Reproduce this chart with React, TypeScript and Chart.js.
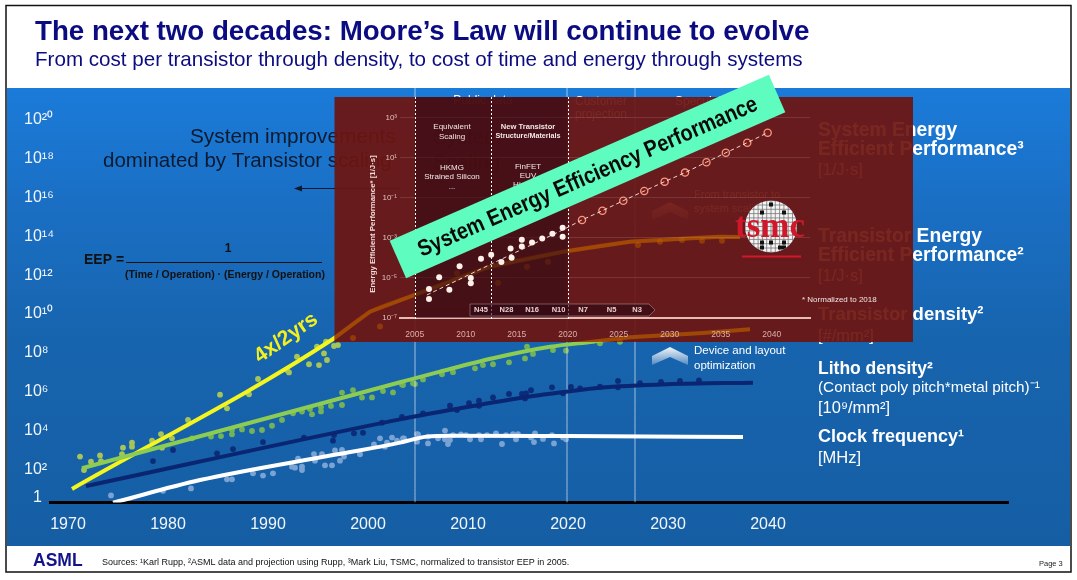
import React, { useEffect, useRef } from "react";
import { Chart, registerables } from "chart.js";
Chart.register(...registerables);

const WIDTH = 1077;
const HEIGHT = 580;
const SANS = '"Liberation Sans", Arial, sans-serif';

// ---------- main chart: [year, log10(value)] ----------
const mainTickYears = [1970, 1980, 1990, 2000, 2010, 2020, 2030, 2040];
const mainTickExps = [0.515, 2, 4, 6, 8, 10, 12, 14, 16, 18, 20];
const mainTickLabels = ["  1", "10²", "10⁴", "10⁶", "10⁸", "10¹⁰", "10¹²", "10¹⁴", "10¹⁶", "10¹⁸", "10²⁰"];
const eraYears = [2004.7, 2019.9, 2026.7];

const transistorEepLine = [[1970.4, 0.98], [1996.5, 8.71], [2000.2, 10.12], [2004.2, 10.89], [2012.2, 12.44], [2019.5, 13.21], [2026.2, 13.73], [2029.2, 13.81], [2035.2, 13.98], [2037.2, 13.97]];
const transistorDensityLine = [[1971.4, 2.05], [2003.2, 6.48], [2007.2, 7.03], [2012.5, 7.72], [2018.2, 8.31], [2022.5, 8.57], [2026.2, 8.8], [2033.5, 9.02], [2038.2, 9.21]];
const lithoDensityLine = [[1971.8, 1.13], [2003.2, 4.57], [2008.2, 5.05], [2014.9, 5.65], [2019.9, 6.0], [2023.2, 6.2], [2029.9, 6.38], [2038.5, 6.46]];
const clockLine = [[1974.5, 0.27], [1983.2, 1.44], [1996.5, 2.73], [2003.2, 3.37], [2004.5, 3.54], [2005.9, 3.68], [2008.2, 3.73], [2019.9, 3.71], [2037.5, 3.66]];

const transistorEepDots = [[1975.5, 3.11], [1976.4, 3.37], [1976.4, 3.16], [1975.4, 2.77], [1973.2, 2.71], [1972.3, 2.39], [1971.2, 2.65], [1971.6, 1.96], [1973.3, 2.41], [1978.4, 3.47], [1979.3, 3.81], [1979.4, 3.11], [1980.4, 3.59], [1982, 4.54], [1985.2, 5.84], [1985.9, 5.14], [1988.1, 5.86], [1989, 6.65], [1991.9, 7.11], [1992.1, 6.99], [1992.9, 7.8], [1994.1, 7.41], [1995.1, 7.37], [1994.9, 8.32], [1995.6, 7.97], [1995.9, 7.63], [1995.8, 8.57], [1996.6, 8.35], [1997, 8.4], [1998.5, 8.76], [2001.2, 9.35], [2008.9, 12.1], [2013, 11.6], [2015.9, 12.44], [2018, 12.7], [2027, 13.56], [2029.2, 13.73], [2031.4, 13.81], [2033.4, 13.78], [2035.4, 13.78]];
const transistorDensityDots = [[1982.4, 3.59], [1984.3, 3.68], [1985.3, 3.71], [1986.4, 4.02], [1986.4, 3.8], [1987.4, 4.05], [1988.4, 3.97], [1989.4, 4.02], [1990.4, 4.24], [1991.4, 4.54], [1992.5, 4.88], [1993.4, 4.97], [1994.2, 5.1], [1994.4, 4.83], [1995.3, 5.19], [1995.3, 4.98], [1996.3, 5.26], [1997.4, 5.31], [1997.4, 5.95], [1998.5, 6.08], [1999.4, 5.69], [2000.4, 5.7], [2001.5, 6.03], [2002.5, 5.96], [2003.4, 6.37], [2004.5, 6.43], [2003.5, 6.34], [2004.7, 6.39], [2005.5, 6.63], [2007.4, 6.89], [2008.5, 7.0], [2010.7, 7.2], [2011.5, 7.37], [2012.5, 7.41], [2014.1, 7.51], [2015.7, 7.71], [2016.5, 7.94], [2015.9, 8.32], [2018.5, 8.14], [2019.8, 8.11], [2023.2, 8.49], [2025.2, 8.57]];
const lithoDensityDots = [[1978.5, 2.42], [1980.5, 2.99], [1984.9, 2.82], [1986.5, 3.04], [1989.5, 3.4], [1993.6, 3.63], [1996.5, 3.47], [1996.6, 3.76], [1998.6, 3.85], [1999.5, 3.88], [2001.4, 4.4], [2003.4, 4.69], [2005.5, 4.88], [2008.2, 5.27], [2008.9, 5.05], [2010.1, 5.4], [2011.1, 5.53], [2011.1, 5.27], [2012.5, 5.7], [2014.1, 5.88], [2015.4, 5.88], [2015.8, 5.91], [2015.7, 5.65], [2016.3, 6.07], [2018.4, 6.22], [2019.5, 5.91], [2020.3, 6.24], [2021.2, 6.17], [2023.2, 6.25], [2025, 6.55], [2025, 6.22], [2027.2, 6.43], [2029.3, 6.5], [2031.2, 6.55], [2033.1, 6.58]];
const clockDots = [[1974.3, 0.65], [1979.5, 0.89], [1982.3, 1.01], [1985.9, 1.48], [1986.4, 1.48], [1988.5, 1.79], [1989.5, 1.67], [1990.5, 1.79], [1992.4, 2.13], [1992.7, 2.08], [1993, 2.54], [1993.4, 1.96], [1993.4, 2.13], [1994.6, 2.78], [1994.7, 2.44], [1995.4, 2.78], [1995.7, 2.2], [1996.4, 2.2], [1996.7, 2.97], [1997.2, 2.44], [1997.4, 2.99], [1997.6, 2.65], [1999.2, 2.77], [2000.6, 3.28], [2001.2, 3.59], [2001.7, 3.16], [2001.9, 3.37], [2002.4, 3.63], [2002.9, 3.47], [2003.6, 3.59], [2005, 3.8], [2003.5, 3.59], [2004.9, 3.81], [2004.9, 3.42], [2006, 3.33], [2006, 3.68], [2007, 3.59], [2007.7, 3.99], [2007.7, 3.54], [2008, 3.3], [2008.2, 3.5], [2008.5, 3.76], [2009.3, 3.8], [2009.8, 3.76], [2010.2, 3.54], [2011.1, 3.76], [2011.3, 3.54], [2011.9, 3.76], [2012.8, 3.85], [2013.4, 3.3], [2013.8, 3.76], [2014.5, 3.81], [2014.8, 3.54], [2015, 3.81], [2016.3, 3.64], [2016.6, 3.4], [2016.7, 3.85], [2017.5, 3.56], [2018.4, 3.76], [2018.6, 3.33], [2019.5, 3.64], [2019.8, 3.54]];

// ---------- inset chart (TSMC) ----------
const insetTickYears = [2005, 2010, 2015, 2020, 2025, 2030, 2035, 2040];
const insetTickExps = [-7, -5, -3, -1, 1, 3];
const insetTickLabels = ["10⁻⁷", "10⁻⁵", "10⁻³", "10⁻¹", "10¹", "10³"];
const insetHistoric = [[2006.4, -6.05], [2006.4, -5.55], [2007.4, -4.97], [2008.4, -5.59], [2009.4, -4.42], [2010.5, -5.0], [2010.5, -5.27], [2011.5, -4.04], [2012.5, -3.84], [2013.5, -4.21], [2014.4, -3.54], [2014.5, -3.99], [2015.5, -3.1], [2015.5, -3.43], [2016.5, -3.23], [2017.5, -3.04], [2018.5, -2.8], [2019.5, -2.5], [2019.5, -2.95]];
const insetProjected = [[2021.4, -2.11], [2023.4, -1.65], [2025.45, -1.15], [2027.5, -0.67], [2029.5, -0.2], [2031.5, 0.25], [2033.6, 0.77], [2035.5, 1.24], [2037.6, 1.74], [2039.6, 2.24]];
const insetFit = [[2006.2, -5.85], [2012.5, -4.31], [2019.5, -2.61], [2021.4, -2.11], [2023.4, -1.65], [2025.45, -1.15], [2027.5, -0.67], [2029.5, -0.2], [2031.5, 0.25], [2033.6, 0.77], [2035.5, 1.24], [2037.6, 1.74], [2039.6, 2.24]];
const insetNodes = ["N45", "N28", "N16", "N10", "N7", "N5", "N3"];
const insetNodeYears = [2011.5, 2014, 2016.5, 2019.1, 2021.5, 2024.3, 2026.8];
const insetEras = [2005, 2012.45, 2020];

const toPoints = (rows: number[][]) => rows.map(([x, e]) => ({ x, y: Math.pow(10, e) }));

function txt(c: any, s: string, x: number, y: number, font: string, color: string, align = "left") {
  c.font = font;
  c.fillStyle = color;
  c.textAlign = align;
  c.textBaseline = "middle";
  c.fillText(s, x, y);
}

const slidePlugin = {
  id: "slide",
  beforeDraw(chart: any) {
    const c = chart.ctx;
    c.save();
    c.fillStyle = "#ffffff";
    c.fillRect(0, 0, WIDTH, HEIGHT);
    const g = c.createLinearGradient(0, 88, 0, 546);
    g.addColorStop(0, "#1b7bd9");
    g.addColorStop(0.25, "#1a6fc4");
    g.addColorStop(0.55, "#1764ae");
    g.addColorStop(1, "#155ea4");
    c.fillStyle = g;
    c.fillRect(7, 88, 1063, 458);
    c.strokeStyle = "#111";
    c.lineWidth = 1.5;
    c.strokeRect(6, 5.5, 1065, 566.5);
    txt(c, "The next two decades: Moore’s Law will continue to evolve", 35, 32, `bold 27.7px ${SANS}`, "#0b0b82");
    txt(c, "From cost per transistor through density, to cost of time and energy through systems", 35, 60, `20.6px ${SANS}`, "#0b0b82");
    txt(c, "ASML", 33, 561, `bold 17.5px ${SANS}`, "#14148a");
    txt(c, "Sources: ¹Karl Rupp, ²ASML data and projection using Rupp, ³Mark Liu, TSMC, normalized to transistor EEP in 2005.", 102, 563, `9px ${SANS}`, "#111");
    txt(c, "Page 3", 1039, 564, `7.5px ${SANS}`, "#222");
    c.restore();
  },
  afterDatasetsDraw(chart: any) {
    const c = chart.ctx;
    c.save();
    const W = "#ffffff";
    const K = "#0c1a30";
    txt(c, "System improvements", 190, 137, `20.8px ${SANS}`, K);
    txt(c, "dominated by Transistor scaling", 103, 161, `20.5px ${SANS}`, K);
    txt(c, "System", 433, 138, `20.5px ${SANS}`, K);
    txt(c, "Scaling", 433, 163, `20.5px ${SANS}`, K);
    c.strokeStyle = K;
    c.lineWidth = 1;
    c.beginPath();
    c.moveTo(400, 188.5);
    c.lineTo(300, 188.5);
    c.stroke();
    c.fillStyle = K;
    c.beginPath();
    c.moveTo(294, 188.5);
    c.lineTo(302, 185.5);
    c.lineTo(302, 191.5);
    c.fill();
    txt(c, "EEP =", 84, 260, `bold 14px ${SANS}`, "#111");
    txt(c, "1", 228, 249, `bold 12px ${SANS}`, "#111", "center");
    c.strokeStyle = "#111";
    c.beginPath();
    c.moveTo(126, 262.5);
    c.lineTo(322, 262.5);
    c.stroke();
    txt(c, "(Time / Operation) · (Energy / Operation)", 125, 275, `bold 10.5px ${SANS}`, "#111");
    c.save();
    c.translate(286, 338);
    c.rotate((-35 * Math.PI) / 180);
    txt(c, "4x/2yrs", 0, 0, `bold 21px ${SANS}`, "#f4f020", "center");
    c.restore();
    // labels lying under the inset
    txt(c, "Public data", 483, 101, `12px ${SANS}`, W, "center");
    txt(c, "Customer", 575, 102, `12px ${SANS}`, W);
    txt(c, "projection", 575, 115, `12px ${SANS}`, W);
    txt(c, "Speculative", 675, 102, `12px ${SANS}`, W);
    txt(c, "From transistor to", 694, 195, `11px ${SANS}`, W);
    txt(c, "system scaling", 694, 209, `11px ${SANS}`, W);
    const chev = (x: number, y: number) => {
      const g = c.createLinearGradient(0, y, 0, y + 18);
      g.addColorStop(0, "rgba(255,255,255,.95)");
      g.addColorStop(1, "rgba(255,255,255,.25)");
      c.fillStyle = g;
      c.beginPath();
      c.moveTo(x, y + 9);
      c.lineTo(x + 18, y);
      c.lineTo(x + 36, y + 9);
      c.lineTo(x + 36, y + 18);
      c.lineTo(x + 18, y + 10);
      c.lineTo(x, y + 18);
      c.closePath();
      c.fill();
    };
    chev(652, 347);
    chev(652, 202);
    txt(c, "Device and layout", 694, 351, `11.5px ${SANS}`, W);
    txt(c, "optimization", 694, 366, `11.5px ${SANS}`, W);
    const B19 = `bold 19.3px ${SANS}`;
    const R = `16.5px ${SANS}`;
    txt(c, "System Energy", 818, 131, B19, W);
    txt(c, "Efficient Performance³", 818, 150, B19, W);
    txt(c, "[1/J·s]", 818, 170, R, W);
    txt(c, "Transistor Energy", 818, 237, B19, W);
    txt(c, "Efficient Performance²", 818, 256, B19, W);
    txt(c, "[1/J·s]", 818, 276, R, W);
    txt(c, "Transistor density²", 818, 315, `bold 18.5px ${SANS}`, W);
    txt(c, "[#/mm²]", 818, 336, R, W);
    txt(c, "Litho density²", 818, 369, `bold 17.5px ${SANS}`, W);
    txt(c, "(Contact poly pitch*metal pitch)⁻¹", 818, 388, `15.3px ${SANS}`, W);
    txt(c, "[10⁹/mm²]", 818, 408, R, W);
    txt(c, "Clock frequency¹", 818, 437, `bold 18px ${SANS}`, W);
    txt(c, "[MHz]", 818, 458, R, W);
    c.restore();
  },
};

let mainChartRef: any = null;

const insetPlugin = {
  id: "inset",
  beforeDraw(chart: any) {
    const c = chart.ctx;
    c.save();
    c.fillStyle = "rgba(110,20,14,0.92)";
    c.fillRect(334.5, 97, 578.5, 245);
    // the main chart's two upper trends show through the panel as orange ghosts
    if (mainChartRef) {
      c.beginPath();
      c.rect(334.5, 97, 578.5, 245);
      c.clip();
      c.strokeStyle = "rgba(190,95,0,.6)";
      c.fillStyle = "rgba(190,95,0,.4)";
      c.lineWidth = 4;
      [2, 3].forEach((idx) => {
        const pts = mainChartRef.getDatasetMeta(idx).data;
        c.beginPath();
        pts.forEach((p: any, i: number) => (i ? c.lineTo(p.x, p.y) : c.moveTo(p.x, p.y)));
        c.stroke();
      });
      [mainChartRef.data.datasets.length - 1, mainChartRef.data.datasets.length - 2].forEach((idx) => {
        mainChartRef.getDatasetMeta(idx).data.forEach((p: any) => {
          c.beginPath();
          c.arc(p.x, p.y, 3, 0, Math.PI * 2);
          c.fill();
        });
      });
    }
    c.restore();
  },
  beforeDatasetsDraw(chart: any) {
    const c = chart.ctx;
    const x = chart.scales.x;
    const top = chart.chartArea.top;
    const bottom = chart.chartArea.bottom;
    c.save();
    c.fillStyle = "rgba(45,8,20,0.55)";
    c.fillRect(x.getPixelForValue(insetEras[0]), top, x.getPixelForValue(insetEras[2]) - x.getPixelForValue(insetEras[0]), bottom - top);
    c.strokeStyle = "#fff";
    c.lineWidth = 1;
    c.setLineDash([2, 2]);
    insetEras.forEach((yr) => {
      const px = Math.round(x.getPixelForValue(yr)) + 0.5;
      c.beginPath();
      c.moveTo(px, top);
      c.lineTo(px, bottom + 2);
      c.stroke();
    });
    c.setLineDash([]);
    // process-node band
    c.fillStyle = "rgba(45,8,20,0.6)";
    c.strokeStyle = "rgba(255,255,255,.3)";
    c.beginPath();
    c.moveTo(470, 304);
    c.lineTo(649, 304);
    c.lineTo(655, 310);
    c.lineTo(649, 316);
    c.lineTo(470, 316);
    c.closePath();
    c.fill();
    c.stroke();
    insetNodes.forEach((n, i) => {
      txt(c, n, x.getPixelForValue(insetNodeYears[i]), 310, `bold 7.5px ${SANS}`, "#e8d0cc", "center");
    });
    const t = `8px ${SANS}`;
    const col = "#f2e6e4";
    txt(c, "Equivalent", 452, 127, t, col, "center");
    txt(c, "Scaling", 452, 136.5, t, col, "center");
    txt(c, "HKMG", 452, 168, t, col, "center");
    txt(c, "Strained Silicon", 452, 177, t, col, "center");
    txt(c, "...", 452, 187, t, col, "center");
    txt(c, "New Transistor", 528, 127, `bold 7.6px ${SANS}`, col, "center");
    txt(c, "Structure/Materials", 528, 136.5, `bold 7.2px ${SANS}`, col, "center");
    txt(c, "FinFET", 528, 167, t, col, "center");
    txt(c, "EUV", 528, 176, t, col, "center");
    txt(c, "High NA", 528, 185, t, col, "center");
    txt(c, "* Normalized to 2018", 802, 300, `8px ${SANS}`, col);
    c.save();
    c.translate(373, 224);
    c.rotate(-Math.PI / 2);
    txt(c, "Energy Efficient Performance* [1/J·s]", 0, 0, `bold 7.8px ${SANS}`, "#f0dcd8", "center");
    c.restore();
    c.restore();
  },
  afterDraw(chart: any) {
    const c = chart.ctx;
    c.save();
    // tsmc wafer logo
    const cx = 771;
    const cy = 226.5;
    const r = 26;
    c.save();
    c.beginPath();
    c.arc(cx, cy, r, 0, Math.PI * 2);
    c.clip();
    c.fillStyle = "#f4f4f4";
    c.fillRect(cx - r, cy - r, 2 * r, 2 * r);
    c.strokeStyle = "#777";
    c.lineWidth = 0.8;
    for (let i = -6; i <= 6; i++) {
      c.beginPath();
      c.moveTo(cx + i * 4.3, cy - r);
      c.lineTo(cx + i * 4.3, cy + r);
      c.moveTo(cx - r, cy + i * 4.3);
      c.lineTo(cx + r, cy + i * 4.3);
      c.stroke();
    }
    c.fillStyle = "#111";
    [[0, -22], [-9, -14], [13, -14], [-9, 16], [0, 16], [-9, 21], [13, 16], [9, 21], [13, 21]].forEach(([dx, dy]) => c.fillRect(cx + dx - 2, cy + dy - 2, 4, 4));
    c.restore();
    txt(c, "tsmc", cx - 1, cy + 1, `bold 35px "Liberation Serif", serif`, "#d0182a", "center");
    c.strokeStyle = "#d0182a";
    c.lineWidth = 2;
    c.beginPath();
    c.moveTo(742, 256.5);
    c.lineTo(801, 256.5);
    c.stroke();
    // banner
    c.translate(587.5, 176.5);
    c.rotate((-23.65 * Math.PI) / 180);
    c.fillStyle = "#5ffcbf";
    c.fillRect(-207, -20.5, 414, 41);
    c.scale(0.86, 1);
    txt(c, "System Energy Efficiency Performance", 0, 1, `bold 23px ${SANS}`, "#0a0a0a", "center");
    c.restore();
  },
};

export default function App() {
  const mainRef = useRef<HTMLCanvasElement>(null);
  const insetRef = useRef<HTMLCanvasElement>(null);

  useEffect(() => {
    document.body.style.margin = "0";
    const line = (data: number[][], color: string, width = 4) => ({
      data: toPoints(data),
      showLine: true,
      borderColor: color,
      borderWidth: width,
      pointRadius: 0,
      cubicInterpolationMode: "monotone",
    });
    const dots = (data: number[][], color: string) => ({
      data: toPoints(data),
      showLine: false,
      pointRadius: 2.9,
      pointBorderWidth: 0,
      backgroundColor: color,
    });
    const yMinExp = 0.284;
    const yMaxExp = 21.65;
    const main = new Chart(mainRef.current as any, {
      type: "scatter",
      plugins: [slidePlugin],
      data: {
        datasets: [
          line(clockLine, "#ffffff"),
          line(lithoDensityLine, "#0a2672"),
          line(transistorDensityLine, "#8ccc52"),
          line(transistorEepLine, "#f4f41e"),
          ...eraYears.map((yr) => line([[yr, yMinExp], [yr, yMaxExp]], "rgba(255,255,255,.6)", 1)),
          dots(clockDots, "#7aa3d4"),
          dots(lithoDensityDots, "#0b2c78"),
          dots(transistorDensityDots, "#74b25a"),
          dots(transistorEepDots, "#a6c45a"),
        ] as any,
      },
      options: {
        animation: false,
        responsive: false,
        devicePixelRatio: 1,
        layout: { padding: { left: 24, right: 69, top: 88, bottom: 0 } },
        plugins: { legend: { display: false }, tooltip: { enabled: false } },
        scales: {
          x: {
            type: "linear",
            min: 1968.2,
            max: 2064,
            afterBuildTicks: (s: any) => { s.ticks = mainTickYears.map((value) => ({ value })); },
            afterFit: (s: any) => { s.height = HEIGHT - 502.5; },
            border: { color: "#000", width: 3 },
            grid: { display: false },
            ticks: { color: "#f2f5fa", font: { family: SANS, size: 16 }, padding: 4, maxRotation: 0, autoSkip: false, callback: (v: any) => String(v) },
          },
          y: {
            type: "logarithmic",
            min: Math.pow(10, yMinExp),
            max: Math.pow(10, yMaxExp),
            afterBuildTicks: (s: any) => { s.ticks = mainTickExps.map((e) => ({ value: Math.pow(10, e) })); },
            afterFit: (s: any) => { s.width = 26; s._computeLabelArea = () => undefined; },
            border: { display: false },
            grid: { display: false },
            ticks: { color: "#f2f5fa", font: { family: SANS, size: 16 }, crossAlign: "far", padding: 0, autoSkip: false, callback: (_v: any, i: number) => mainTickLabels[i] },
          },
        },
      } as any,
    });
    mainChartRef = main;

    const inset = new Chart(insetRef.current as any, {
      type: "scatter",
      plugins: [insetPlugin],
      data: {
        datasets: [
          { ...line(insetFit, "rgba(255,235,225,.9)", 1), borderDash: [4, 3], cubicInterpolationMode: "default" },
          { ...dots(insetHistoric, "#fff0ea"), pointRadius: 3 },
          { data: toPoints(insetProjected), showLine: false, pointRadius: 3.6, pointBorderWidth: 1.3, pointBorderColor: "#f09a88", pointBackgroundColor: "#7a1a16" },
        ] as any,
      },
      options: {
        animation: false,
        responsive: false,
        devicePixelRatio: 1,
        layout: { padding: { left: 366, right: 267, top: 97, bottom: 0 } },
        plugins: { legend: { display: false }, tooltip: { enabled: false } },
        scales: {
          x: {
            type: "linear",
            min: 2003.56,
            max: 2043.75,
            afterBuildTicks: (s: any) => { s.ticks = insetTickYears.map((value) => ({ value })); },
            afterFit: (s: any) => { s.height = HEIGHT - 318; },
            border: { color: "#e6bdb4", width: 2 },
            grid: { display: false },
            ticks: { color: "#dcb0a8", font: { family: SANS, size: 8.5 }, padding: 4, maxRotation: 0, autoSkip: false, callback: (v: any) => String(v) },
          },
          y: {
            type: "logarithmic",
            min: 1e-7,
            max: Math.pow(10, 4.02),
            afterBuildTicks: (s: any) => { s.ticks = insetTickExps.map((e) => ({ value: Math.pow(10, e) })); },
            afterFit: (s: any) => { s.width = 34; },
            border: { display: false },
            grid: { color: "rgba(255,255,255,.12)", drawTicks: false },
            ticks: { color: "#e0c4be", font: { family: SANS, size: 8 }, padding: 3, autoSkip: false, callback: (_v: any, i: number) => insetTickLabels[i] },
          },
        },
      } as any,
    });
    return () => {
      main.destroy();
      inset.destroy();
      mainChartRef = null;
    };
  }, []);

  return (
    <div style={{ position: "relative", width: WIDTH, height: HEIGHT }}>
      <canvas ref={mainRef} width={WIDTH} height={HEIGHT} style={{ position: "absolute", left: 0, top: 0 }} />
      <canvas ref={insetRef} width={WIDTH} height={HEIGHT} style={{ position: "absolute", left: 0, top: 0 }} />
    </div>
  );
}
